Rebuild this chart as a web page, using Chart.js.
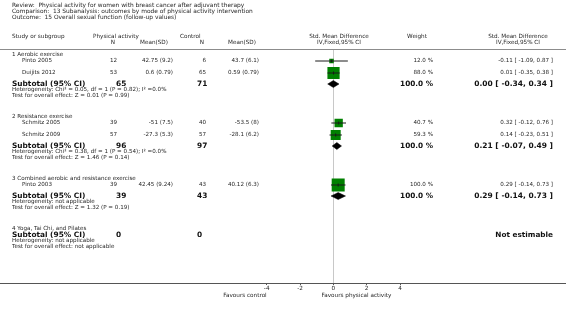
<!DOCTYPE html>
<html>
<head>
<meta charset="utf-8">
<script src="https://cdn.jsdelivr.net/npm/chart.js@4"></script>
<style>
html, body { margin: 0; padding: 0; background: #fff; }
</style>
</head>
<body>
<canvas id="forest-chart" width="566" height="313"></canvas>
<script>
const titleLines = [
    "Review:  Physical activity for women with breast cancer after adjuvant therapy",
    "Comparison:  13 Subanalysis: outcomes by mode of physical activity intervention",
    "Outcome:  15 Overall sexual function (follow-up values)",
];
const groupNames = [
    "1 Aerobic exercise",
    "2 Resistance exercise",
    "3 Combined aerobic and resistance exercise",
    "4 Yoga, Tai Chi, and Pilates",
];
const studyNames = ["Pinto 2005", "Duijits 2012", "Schmitz 2005", "Schmitz 2009", "Pinto 2003"];
const studyGroup = [0, 0, 1, 1, 2];
const paN = [12, 53, 39, 57, 39];
const paMean = [42.75, 0.6, -51, -27.3, 42.45];
const paSD = [9.2, 0.79, 7.5, 5.3, 9.24];
const ctlN = [6, 65, 40, 57, 43];
const ctlMean = [43.7, 0.59, -53.5, -28.1, 40.12];
const ctlSD = [6.1, 0.79, 8, 6.2, 6.3];
const smd = [-0.11, 0.01, 0.32, 0.14, 0.29];
const ciLow = [-1.09, -0.35, -0.12, -0.23, -0.14];
const ciHigh = [0.87, 0.38, 0.76, 0.51, 0.73];
const weights = [12.0, 88.0, 40.7, 59.3, 100.0];
const subPaN = [65, 96, 39, 0];
const subCtlN = [71, 97, 43, 0];
const subSmd = [0.0, 0.21, 0.29, null];
const subLow = [-0.34, -0.07, -0.14, null];
const subHigh = [0.34, 0.49, 0.73, null];
const subWeight = [100.0, 100.0, 100.0, null];
const heterogeneity = [
    "Heterogeneity: Chi\u00b2 = 0.05, df = 1 (P = 0.82); I\u00b2 =0.0%",
    "Heterogeneity: Chi\u00b2 = 0.38, df = 1 (P = 0.54); I\u00b2 =0.0%",
    "Heterogeneity: not applicable",
    "Heterogeneity: not applicable",
];
const overallEffect = [
    "Test for overall effect: Z = 0.01 (P = 0.99)",
    "Test for overall effect: Z = 1.46 (P = 0.14)",
    "Test for overall effect: Z = 1.32 (P = 0.19)",
    "Test for overall effect: not applicable",
];
const xTicks = [-4, -2, 0, 2, 4];

// row layout, in pixels below the header rule
const rows = [];
let cursor = 6;
groupNames.forEach((name, gi) => {
    rows.push({ kind: "group", gi, y: cursor });
    cursor += 6;
    const members = studyGroup.map((g, si) => (g === gi ? si : -1)).filter((si) => si >= 0);
    members.forEach((si, k) => {
        if (k > 0) cursor += 12;
        rows.push({ kind: "study", si, y: cursor });
    });
    if (members.length) cursor += 11;
    rows.push({ kind: "subtotal", gi, y: cursor });
    cursor += 6;
    rows.push({ kind: "het", gi, y: cursor });
    cursor += 6;
    rows.push({ kind: "test", gi, y: cursor });
    cursor += 21;
});
const studyY = (si) => rows.find((r) => r.kind === "study" && r.si === si).y;
const subY = (gi) => rows.find((r) => r.kind === "subtotal" && r.gi === gi).y;

const FONT = "'DejaVu Sans', Verdana, sans-serif";
const fmt = (v) => (v < 0 ? "-" : "") + Math.abs(v).toFixed(2);
const ciText = (e, l, h) => `${fmt(e)} [ ${fmt(l)}, ${fmt(h)} ]`;

const datasets = [];
studyNames.forEach((name, si) => {
    datasets.push({
        type: "line",
        data: [{ x: ciLow[si], y: studyY(si) }, { x: ciHigh[si], y: studyY(si) }],
        borderColor: "#1a1a1a",
        borderWidth: 1,
        pointRadius: 0,
        order: 1,
    });
});
datasets.push({
    data: studyNames.map((n, si) => ({ x: smd[si], y: studyY(si) })),
    pointStyle: "rect",
    pointRadius: (ctx) => (1.3 * Math.sqrt(weights[ctx.dataIndex])) / Math.SQRT2,
    backgroundColor: "#008000",
    borderWidth: 0,
    order: 2,
});
datasets.push({
    data: studyNames.map((n, si) => ({ x: smd[si], y: studyY(si) })),
    pointStyle: "line",
    rotation: 90,
    pointRadius: 1.5,
    borderColor: "#1a1a1a",
    borderWidth: 1,
    order: 0,
});
subSmd.forEach((est, gi) => {
    if (est === null) return;
    const y = subY(gi);
    datasets.push({
        type: "line",
        data: [
            { x: subLow[gi], y },
            { x: est, y: y - 3.5 },
            { x: subHigh[gi], y },
            { x: est, y: y + 3.5 },
            { x: subLow[gi], y },
        ],
        borderColor: "#000",
        borderWidth: 0.5,
        backgroundColor: "#000",
        fill: "shape",
        pointRadius: 0,
        order: 0,
    });
});

const tablePlugin = {
    id: "forestTable",
    afterDraw(chart) {
        const { ctx, chartArea } = chart;
        const ys = chart.scales.y;
        const xs = chart.scales.x;
        const W = chart.width;
        ctx.save();
        ctx.textBaseline = "middle";

        const text = (s, x, y, align, size, bold, color) => {
            ctx.font = `${bold ? "bold " : ""}${size}px ${FONT}`;
            ctx.fillStyle = color || "#262626";
            ctx.textAlign = align;
            ctx.fillText(s, x, y);
        };

        titleLines.forEach((s, i) => text(s, 12, 5.5 + i * 6, "left", 5.9));

        const h1 = 37;
        const h2 = 43;
        text("Study or subgroup", 12, h1, "left", 5.7);
        text("Physical activity", 93, h1, "left", 5.7);
        text("N", 113, h2, "center", 5.7);
        text("Mean(SD)", 140, h2, "left", 5.7);
        text("Control", 180, h1, "left", 5.7);
        text("N", 202, h2, "center", 5.7);
        text("Mean(SD)", 228, h2, "left", 5.7);
        text("Std. Mean Difference", 339, h1, "center", 5.7);
        text("IV,Fixed,95% CI", 339, h2, "center", 5.7);
        text("Weight", 417, h1, "center", 5.7);
        text("Std. Mean Difference", 518, h1, "center", 5.7);
        text("IV,Fixed,95% CI", 518, h2, "center", 5.7);

        ctx.strokeStyle = "#8c8c8c";
        ctx.lineWidth = 1;
        ctx.beginPath();
        ctx.moveTo(0, chartArea.top + 0.5);
        ctx.lineTo(W, chartArea.top + 0.5);
        ctx.stroke();

        rows.forEach((r) => {
            const y = ys.getPixelForValue(r.y);
            if (r.kind === "group") {
                text(groupNames[r.gi], 12, y, "left", 5.6);
            } else if (r.kind === "study") {
                const si = r.si;
                text(studyNames[si], 22, y, "left", 5.6);
                text(String(paN[si]), 117, y, "right", 5.6);
                text(`${paMean[si]} (${paSD[si]})`, 173, y, "right", 5.6);
                text(String(ctlN[si]), 206, y, "right", 5.6);
                text(`${ctlMean[si]} (${ctlSD[si]})`, 259, y, "right", 5.6);
                text(`${weights[si].toFixed(1)} %`, 433, y, "right", 5.6);
                text(ciText(smd[si], ciLow[si], ciHigh[si]), 553, y, "right", 5.6);
            } else if (r.kind === "subtotal") {
                const gi = r.gi;
                text("Subtotal (95% CI)", 12, y, "left", 7.4, true, "#111");
                text(String(subPaN[gi]), 116, y, "left", 7.4, true, "#111");
                text(String(subCtlN[gi]), 197, y, "left", 7.4, true, "#111");
                if (subSmd[gi] === null) {
                    text("Not estimable", 553, y, "right", 7.3, true, "#111");
                } else {
                    text(`${subWeight[gi].toFixed(1)} %`, 433, y, "right", 7.3, true, "#111");
                    text(ciText(subSmd[gi], subLow[gi], subHigh[gi]), 553, y, "right", 7.5, true, "#111");
                }
            } else if (r.kind === "het") {
                text(heterogeneity[r.gi], 12, y, "left", 5.6);
            } else {
                text(overallEffect[r.gi], 12, y, "left", 5.6);
            }
        });

        const axisY = chartArea.bottom + 0.5;
        ctx.strokeStyle = "#555";
        ctx.beginPath();
        ctx.moveTo(0, axisY);
        ctx.lineTo(W, axisY);
        ctx.stroke();

        text("Favours control", xs.getPixelForValue(-4), 296, "right", 5.7);
        text("Favours physical activity", 321.5, 296, "left", 5.7);
        ctx.restore();
    },
};

new Chart(document.getElementById("forest-chart"), {
    type: "scatter",
    data: { datasets },
    options: {
        responsive: false,
        animation: false,
        events: [],
        layout: { padding: { left: 266.7, right: 166, top: 49, bottom: 0 } },
        plugins: { legend: { display: false }, tooltip: { enabled: false } },
        scales: {
            x: {
                type: "linear",
                min: -4,
                max: 4,
                afterBuildTicks: (scale) => {
                    scale.ticks = xTicks.map((v) => ({ value: v }));
                },
                afterFit: (scale) => {
                    scale.height = 30;
                },
                border: { display: false },
                grid: {
                    color: (ctx) => (ctx.tick && ctx.tick.value === 0 ? "#c8c8c8" : "rgba(0,0,0,0)"),
                    tickColor: "#555",
                    tickLength: 2,
                    lineWidth: 1,
                },
                ticks: {
                    padding: 0,
                    color: "#262626",
                    font: { family: FONT, size: 5.7 },
                    maxRotation: 0,
                },
            },
            y: {
                type: "linear",
                display: false,
                reverse: true,
                min: 0,
                max: 234,
            },
        },
    },
    plugins: [tablePlugin],
});
</script>
</body>
</html>
